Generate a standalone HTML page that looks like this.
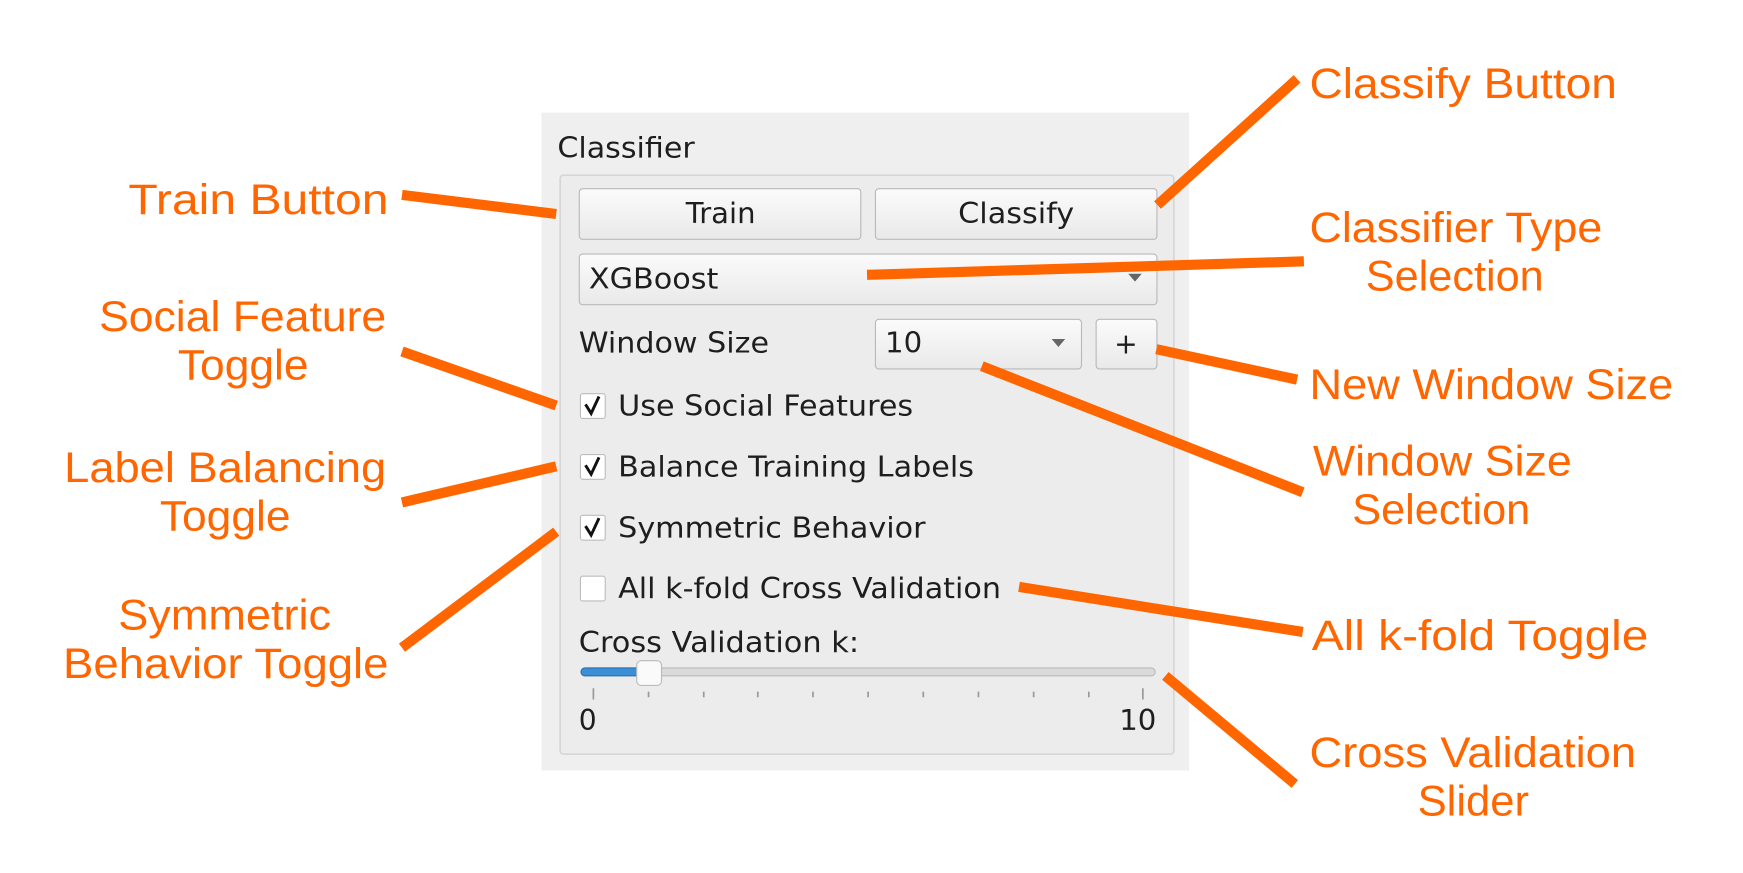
<!DOCTYPE html>
<html><head><meta charset="utf-8"><style>html,body{margin:0;padding:0;background:#fff}svg{display:block}</style></head>
<body>
<svg width="1743" height="873" viewBox="0 0 1548 775" preserveAspectRatio="none" xmlns="http://www.w3.org/2000/svg">
<defs>
<linearGradient id="btn" x1="0" y1="0" x2="0" y2="1"><stop offset="0" stop-color="#fbfbfb"/><stop offset="1" stop-color="#e9e9e9"/></linearGradient>
</defs>
<rect x="481" y="100" width="575" height="584" fill="#efefef"/>
<g font-family="DejaVu Sans, sans-serif" font-size="25" fill="#1e1e1e">
<text x="495" y="140" textLength="122" lengthAdjust="spacingAndGlyphs">Classifier</text>
<rect x="497.5" y="155.5" width="545" height="514" rx="3" fill="#ececec" stroke="#d6d6d6" stroke-width="1.5"/>
<rect x="514.5" y="167.5" width="250" height="45" rx="3" fill="url(#btn)" stroke="#b9b9b9"/>
<text x="609" y="198" textLength="62" lengthAdjust="spacingAndGlyphs">Train</text>
<rect x="777.5" y="167.5" width="250" height="45" rx="3" fill="url(#btn)" stroke="#b9b9b9"/>
<text x="851" y="198" textLength="103" lengthAdjust="spacingAndGlyphs">Classify</text>
<rect x="514.5" y="225.5" width="513" height="45" rx="3" fill="url(#btn)" stroke="#b9b9b9"/>
<text x="523" y="256" textLength="115" lengthAdjust="spacingAndGlyphs">XGBoost</text>
<path d="M1002 243 L1014 243 L1008 250 Z" fill="#666"/>
<text x="514" y="313" textLength="169" lengthAdjust="spacingAndGlyphs">Window Size</text>
<rect x="777.5" y="283.5" width="183" height="44" rx="3" fill="url(#btn)" stroke="#b9b9b9"/>
<text x="786" y="313" textLength="33" lengthAdjust="spacingAndGlyphs">10</text>
<path d="M934 301 L946 301 L940 308 Z" fill="#666"/>
<rect x="973.5" y="283.5" width="54" height="44" rx="3" fill="url(#btn)" stroke="#b9b9b9"/>
<text x="1000" y="314" text-anchor="middle">+</text>
<g stroke="#bdbdbd" fill="#fff">
<rect x="515.5" y="349.5" width="22" height="22" rx="2"/>
<rect x="515.5" y="403.5" width="22" height="22" rx="2"/>
<rect x="515.5" y="457.5" width="22" height="22" rx="2"/>
<rect x="515.5" y="511.5" width="22" height="22" rx="2"/>
</g>
<g fill="none" stroke="#111" stroke-width="2.6"><path d="M520 359 L525 367 L532 352"/><path d="M520 413 L525 421 L532 406"/><path d="M520 467 L525 475 L532 460"/></g>
<text x="549" y="369" textLength="262" lengthAdjust="spacingAndGlyphs">Use Social Features</text>
<text x="549" y="423" textLength="316" lengthAdjust="spacingAndGlyphs">Balance Training Labels</text>
<text x="549" y="477" textLength="273" lengthAdjust="spacingAndGlyphs">Symmetric Behavior</text>
<text x="549" y="531" textLength="340" lengthAdjust="spacingAndGlyphs">All k-fold Cross Validation</text>
<text x="514" y="579" textLength="249" lengthAdjust="spacingAndGlyphs">Cross Validation k:</text>
<rect x="516" y="593" width="510" height="7" rx="3.5" fill="#dadada" stroke="#bbb"/>
<rect x="516" y="593" width="60" height="7" rx="3.5" fill="#3a8fd6" stroke="#2a72b0"/>
<rect x="565.5" y="586.5" width="22" height="22" rx="4" fill="#fafafa" stroke="#bbb"/>
<g stroke="#999" stroke-width="1.5">
<line x1="527" y1="611" x2="527" y2="621"/><line x1="576" y1="614" x2="576" y2="619"/><line x1="625" y1="614" x2="625" y2="619"/><line x1="673" y1="614" x2="673" y2="619"/><line x1="722" y1="614" x2="722" y2="619"/><line x1="771" y1="614" x2="771" y2="619"/><line x1="820" y1="614" x2="820" y2="619"/><line x1="869" y1="614" x2="869" y2="619"/><line x1="918" y1="614" x2="918" y2="619"/><line x1="967" y1="614" x2="967" y2="619"/><line x1="1015" y1="611" x2="1015" y2="621"/>
</g>
<text x="514" y="648">0</text>
<text x="994" y="648" textLength="33" lengthAdjust="spacingAndGlyphs">10</text>
</g>
<g stroke="#ff6600" stroke-width="9" stroke-linecap="butt">
<line x1="357" y1="173" x2="494" y2="190"/>
<line x1="1028" y1="182" x2="1152" y2="70"/>
<line x1="770" y1="244" x2="1158" y2="232"/>
<line x1="1027" y1="310" x2="1152" y2="337"/>
<line x1="872" y1="325" x2="1157" y2="437"/>
<line x1="357" y1="312" x2="494" y2="360"/>
<line x1="357" y1="446" x2="494" y2="414"/>
<line x1="357" y1="575" x2="494" y2="472"/>
<line x1="905" y1="521" x2="1157" y2="561"/>
<line x1="1035" y1="600" x2="1150" y2="696"/>
</g>
<g font-family="Liberation Sans, DejaVu Sans, sans-serif" font-size="38" fill="#ff6600">
<text x="1163" y="87" textLength="273" lengthAdjust="spacingAndGlyphs">Classify Button</text>
<text x="1163" y="215" textLength="260" lengthAdjust="spacingAndGlyphs">Classifier Type</text>
<text x="1213" y="258" textLength="158" lengthAdjust="spacingAndGlyphs">Selection</text>
<text x="1163" y="354" textLength="323" lengthAdjust="spacingAndGlyphs">New Window Size</text>
<text x="1166" y="422" textLength="230" lengthAdjust="spacingAndGlyphs">Window Size</text>
<text x="1201" y="465" textLength="158" lengthAdjust="spacingAndGlyphs">Selection</text>
<text x="1165" y="577" textLength="299" lengthAdjust="spacingAndGlyphs">All k-fold Toggle</text>
<text x="1163" y="681" textLength="290" lengthAdjust="spacingAndGlyphs">Cross Validation</text>
<text x="1259" y="724" textLength="99" lengthAdjust="spacingAndGlyphs">Slider</text>
<text x="114" y="190" textLength="231" lengthAdjust="spacingAndGlyphs">Train Button</text>
<text x="88" y="294" textLength="255" lengthAdjust="spacingAndGlyphs">Social Feature</text>
<text x="158" y="337" textLength="116" lengthAdjust="spacingAndGlyphs">Toggle</text>
<text x="57" y="428" textLength="286" lengthAdjust="spacingAndGlyphs">Label Balancing</text>
<text x="142" y="471" textLength="116" lengthAdjust="spacingAndGlyphs">Toggle</text>
<text x="105" y="559" textLength="189" lengthAdjust="spacingAndGlyphs">Symmetric</text>
<text x="56" y="602" textLength="289" lengthAdjust="spacingAndGlyphs">Behavior Toggle</text>
</g>
</svg>
</body></html>
